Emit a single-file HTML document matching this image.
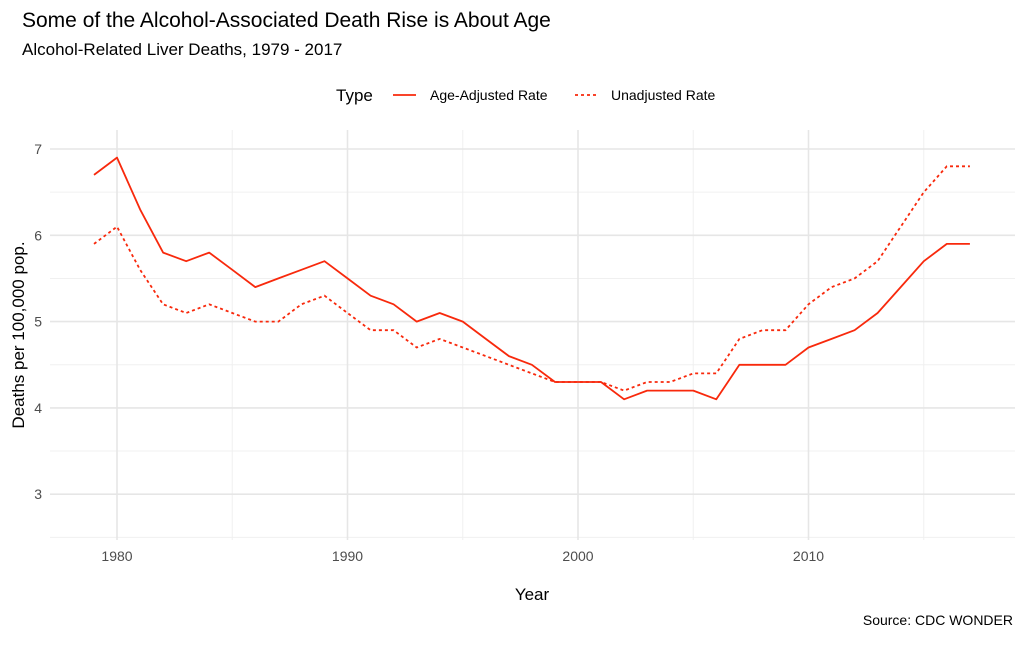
<!DOCTYPE html>
<html><head><meta charset="utf-8">
<style>
body{margin:0;background:#fff;width:1024px;height:640px;overflow:hidden;font-family:"Liberation Sans",sans-serif}
</style></head>
<body>
<svg id="chart" width="1024" height="640" xmlns="http://www.w3.org/2000/svg" font-family="Liberation Sans, sans-serif">
<text x="22" y="27" font-size="21" fill="#000">Some of the Alcohol-Associated Death Rise is About Age</text>
<text x="22" y="55" font-size="17" fill="#000">Alcohol-Related Liver Deaths, 1979 - 2017</text>
<g>
<text x="336" y="101" font-size="17">Type</text>
<line x1="393" y1="95" x2="416" y2="95" stroke="#f8290c" stroke-width="1.8"/>
<text x="430" y="100" font-size="14">Age-Adjusted Rate</text>
<line x1="575" y1="95" x2="598" y2="95" stroke="#f8290c" stroke-width="1.8" stroke-dasharray="3,3"/>
<text x="611" y="100" font-size="14">Unadjusted Rate</text>
</g>
<g id="grid"></g>
<g id="series"></g>
<g id="ticks"></g>
<text x="532" y="600" font-size="17" text-anchor="middle">Year</text>
<text transform="translate(24,335) rotate(-90)" font-size="17" text-anchor="middle">Deaths per 100,000 pop.</text>
<text x="1013" y="625" font-size="14" text-anchor="end">Source: CDC WONDER</text>
</svg>
<script>
const years=[1979,1980,1981,1982,1983,1984,1985,1986,1987,1988,1989,1990,1991,1992,1993,1994,1995,1996,1997,1998,1999,2000,2001,2002,2003,2004,2005,2006,2007,2008,2009,2010,2011,2012,2013,2014,2015,2016,2017];
const ageAdjusted=[6.7,6.9,6.3,5.8,5.7,5.8,5.6,5.4,5.5,5.6,5.7,5.5,5.3,5.2,5.0,5.1,5.0,4.8,4.6,4.5,4.3,4.3,4.3,4.1,4.2,4.2,4.2,4.1,4.5,4.5,4.5,4.7,4.8,4.9,5.1,5.4,5.7,5.9,5.9];
const unadjusted=[5.9,6.1,5.6,5.2,5.1,5.2,5.1,5.0,5.0,5.2,5.3,5.1,4.9,4.9,4.7,4.8,4.7,4.6,4.5,4.4,4.3,4.3,4.3,4.2,4.3,4.3,4.4,4.4,4.8,4.9,4.9,5.2,5.4,5.5,5.7,6.1,6.5,6.8,6.8];
const xTicks=[1980,1990,2000,2010];
const yTicks=[3,4,5,6,7];
const NS="http://www.w3.org/2000/svg";
const X=v=>117+(v-1980)*23.05;
const Y=v=>149+(7-v)*86.3;
const L=50,R=1015,T=130,B=540;
function mk(tag,attrs,parent){const e=document.createElementNS(NS,tag);for(const k in attrs)e.setAttribute(k,attrs[k]);parent.appendChild(e);return e;}
const grid=document.getElementById('grid'),ticks=document.getElementById('ticks'),ser=document.getElementById('series');
for(let v=2.5;v<=7;v+=1){const l=mk('line',{x1:L,x2:R,y1:Y(v),y2:Y(v),stroke:'#f0f0f0','stroke-width':1},grid);

}
for(let v=1985;v<=2015;v+=10){const l=mk('line',{x1:X(v),x2:X(v),y1:T,y2:B,stroke:'#f0f0f0','stroke-width':1},grid);

}
yTicks.forEach(v=>{const l=mk('line',{x1:L,x2:R,y1:Y(v),y2:Y(v),stroke:'#e6e6e6','stroke-width':1.6},grid);


const t=mk('text',{x:42,y:Y(v)+5,'font-size':14,fill:'#4d4d4d','text-anchor':'end'},ticks);t.textContent=v;

});
xTicks.forEach(v=>{const l=mk('line',{x1:X(v),x2:X(v),y1:T,y2:B,stroke:'#e6e6e6','stroke-width':1.6},grid);


const t=mk('text',{x:X(v),y:561,'font-size':14,fill:'#4d4d4d','text-anchor':'middle'},ticks);t.textContent=v;

});
function pts(vals){return years.map((y,i)=>X(y).toFixed(1)+','+Y(vals[i]).toFixed(1)).join(' ');}
const p1=mk('polyline',{points:pts(ageAdjusted),fill:'none',stroke:'#f8290c','stroke-width':1.8,'stroke-linejoin':'round'},ser);


const p2=mk('polyline',{points:pts(unadjusted),fill:'none',stroke:'#f8290c','stroke-width':1.8,'stroke-dasharray':'3,3'},ser);


</script>
</body></html>
